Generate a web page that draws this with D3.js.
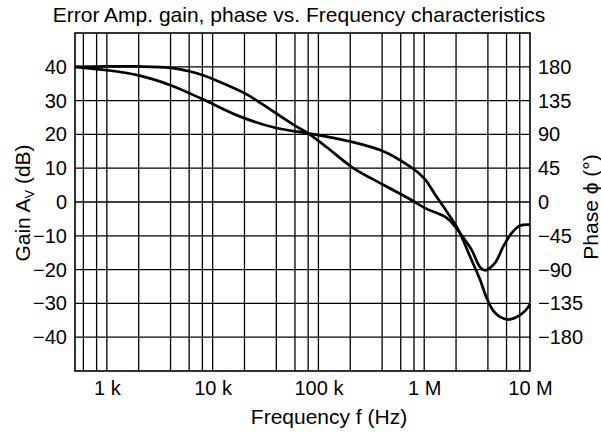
<!DOCTYPE html>
<html>
<head>
<meta charset="utf-8">
<script src="https://cdn.jsdelivr.net/npm/d3@7"></script>
<style>
  body { margin: 0; background: #fff; }
  svg text { font-family: "Liberation Sans", Arial, sans-serif; fill: #000; }
</style>
</head>
<body>
<div id="chart"></div>
<script>
// gain curve (dB)
const gainFreq = [500, 1e3, 2e3, 4e3, 6e3, 8e3, 10e3, 20e3, 30e3, 40e3, 60e3, 80e3, 120e3, 210e3, 410e3, 730e3,
  1.02e6, 1.63e6, 1.95e6, 2.18e6, 2.8e6, 3.36e6, 3.75e6, 4.67e6, 5.6e6, 6.7e6, 8e6, 10e6];
const gainDb = [40, 40.1, 40.1, 39.7, 38.7, 37.6, 36.4, 32.2, 28.8, 26.2, 22.6, 20.3, 16.2, 10.2, 5.1, 0.9,
  -1.8, -4.7, -7.2, -9.2, -14.1, -19.2, -20.2, -18.0, -13.1, -9.2, -7.0, -6.7];

// phase curve (deg)
const phaseFreq = [500, 800, 1e3, 2e3, 4e3, 8e3, 18e3, 40e3, 80e3, 200e3, 410e3, 730e3, 880e3,
  1.02e6, 1.3e6, 1.63e6, 2.1e6, 2.7e6, 3.36e6, 3.9e6, 4.5e6, 5.2e6, 6.2e6, 7.5e6, 9e6, 10e6];
const phaseDeg = [180, 177, 175.5, 168.5, 155.5, 137, 114, 98.5, 91.5, 80.5, 67.5, 47.5, 39,
  30, 7.5, -12.5, -37, -72, -103, -128, -145, -153, -156.5, -153, -145, -136];

const gainTicks = [40, 30, 20, 10, 0, -10, -20, -30, -40];
const phaseTicks = [180, 135, 90, 45, 0, -45, -90, -135, -180];
const freqTicks = [1e3, 1e4, 1e5, 1e6, 1e7];
const freqLabels = ["1 k", "10 k", "100 k", "1 M", "10 M"];
const gridMult = [1, 2, 4, 6, 8];

const W = 601, H = 433;
const margin = { top: 33, right: 71, bottom: 62, left: 75 },
  width = W - margin.left - margin.right,
  height = H - margin.top - margin.bottom;

const svg = d3.select("#chart").append("svg")
  .attr("width", W).attr("height", H);

const g = svg.append("g")
  .attr("transform", `translate(${margin.left}, ${margin.top})`);

const x = d3.scaleLog().domain([500, 1e7]).range([0, width]);
const yGain = d3.scaleLinear().domain([-50, 50]).range([height, 0]);
const yPhase = d3.scaleLinear().domain([-225, 225]).range([height, 0]);

// grid lines
const vLines = [];
[100, 1e3, 1e4, 1e5, 1e6].forEach((dec) => {
  gridMult.forEach((m) => {
    const f = dec * m;
    if (f > 500 && f < 1e7) vLines.push(f);
  });
});

g.append("g").selectAll("line").data(vLines).join("line")
  .attr("x1", (d) => x(d)).attr("x2", (d) => x(d))
  .attr("y1", 0).attr("y2", height)
  .attr("stroke", "#000").attr("stroke-width", 1.3);

g.append("g").selectAll("line").data(gainTicks).join("line")
  .attr("x1", 0).attr("x2", width)
  .attr("y1", (d) => yGain(d)).attr("y2", (d) => yGain(d))
  .attr("stroke", "#000").attr("stroke-width", 1.3);

g.append("rect")
  .attr("width", width).attr("height", height)
  .attr("fill", "none").attr("stroke", "#000").attr("stroke-width", 1.6);

// axes
const fmt = (d) => (d < 0 ? "\u2212" + Math.abs(d) : String(d));

g.append("g")
  .call(d3.axisLeft(yGain).tickValues(gainTicks).tickSize(0).tickPadding(8).tickFormat(fmt))
  .call((a) => a.select(".domain").remove())
  .selectAll("text").style("font-size", "20px");

g.append("g")
  .attr("transform", `translate(${width}, 0)`)
  .call(d3.axisRight(yPhase).tickValues(phaseTicks).tickSize(0).tickPadding(8).tickFormat(fmt))
  .call((a) => a.select(".domain").remove())
  .selectAll("text").style("font-size", "20px");

g.append("g")
  .attr("transform", `translate(0, ${height})`)
  .call(d3.axisBottom(x).tickValues(freqTicks).tickSize(0).tickPadding(10)
    .tickFormat((d, i) => freqLabels[i]))
  .call((a) => a.select(".domain").remove())
  .selectAll("text").style("font-size", "20px");

// curves
const gainLine = d3.line()
  .x((d, i) => x(gainFreq[i]))
  .y((d) => yGain(d))
  .curve(d3.curveCatmullRom.alpha(0.5));

const phaseLine = d3.line()
  .x((d, i) => x(phaseFreq[i]))
  .y((d) => yPhase(d))
  .curve(d3.curveCatmullRom.alpha(0.5));

g.append("path").attr("d", gainLine(gainDb))
  .attr("fill", "none").attr("stroke", "#000").attr("stroke-width", 2.7);

g.append("path").attr("d", phaseLine(phaseDeg))
  .attr("fill", "none").attr("stroke", "#000").attr("stroke-width", 2.7);

// titles
svg.append("text")
  .attr("x", 299).attr("y", 22)
  .attr("text-anchor", "middle")
  .style("font-size", "21px")
  .text("Error Amp. gain, phase vs. Frequency characteristics");

svg.append("text")
  .attr("x", 329).attr("y", 424)
  .attr("text-anchor", "middle")
  .style("font-size", "21px")
  .text("Frequency f (Hz)");

const gl = svg.append("text")
  .attr("transform", "translate(29.5, 203) rotate(-90)")
  .attr("text-anchor", "middle")
  .style("font-size", "21px");
gl.append("tspan").text("Gain A");
gl.append("tspan").attr("dy", 4).style("font-size", "13px").text("V");
gl.append("tspan").attr("dy", -4).text(" (dB)");

svg.append("text")
  .attr("transform", "translate(598, 207) rotate(-90)")
  .attr("text-anchor", "middle")
  .style("font-size", "21px")
  .text("Phase \u03D5 (\u00B0)");
</script>
</body>
</html>
